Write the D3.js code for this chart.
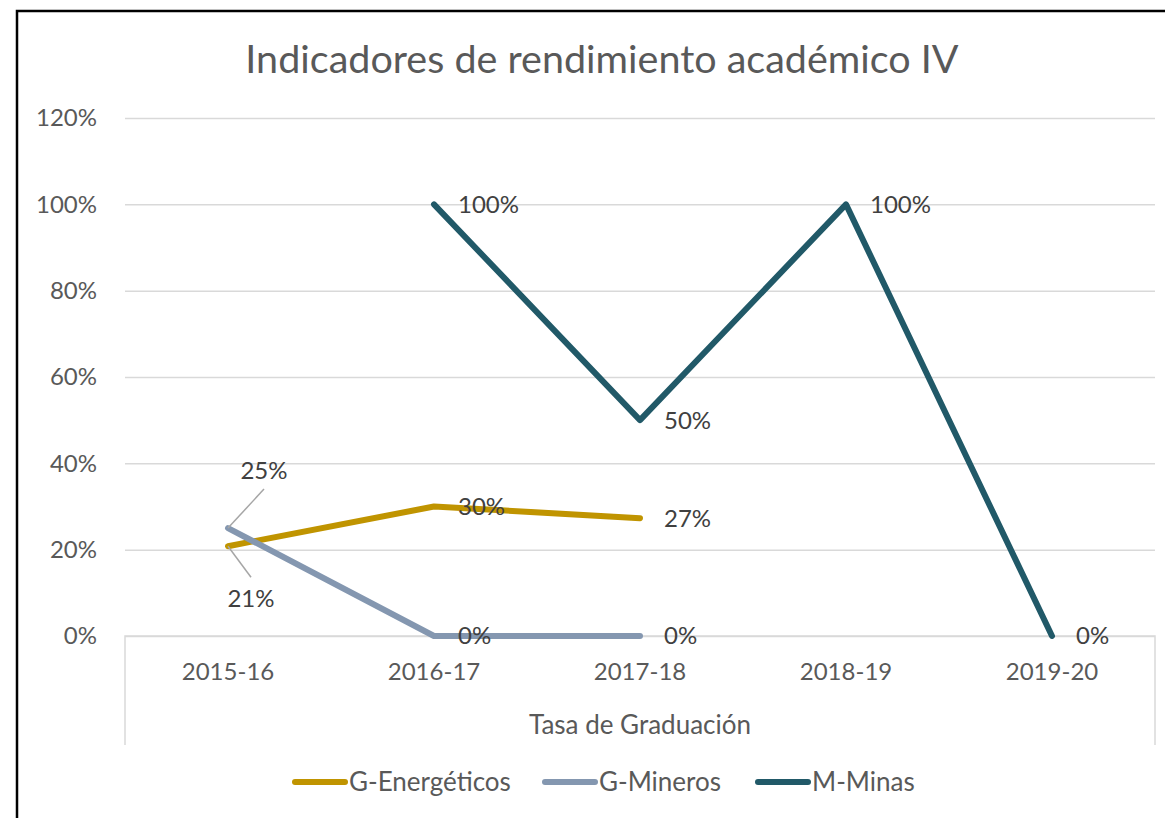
<!DOCTYPE html>
<html>
<head>
<meta charset="utf-8">
<script src="https://cdn.jsdelivr.net/npm/d3@7"></script>
<style>
  html, body { margin: 0; padding: 0; background: #fff; }
  svg { display: block; }
  text { font-family: Lato, "Open Sans", sans-serif; }
</style>
</head>
<body>
<div id="container"></div>
<script>
const categories = ["2015-16", "2016-17", "2017-18", "2018-19", "2019-20"];
const energeticos = [0.208, 0.30, 0.273, null, null];
const mineros = [0.25, 0, 0, null, null];
const minas = [null, 1.0, 0.5, 1.0, 0];
const yTicks = [0, 0.2, 0.4, 0.6, 0.8, 1.0, 1.2];
const seriesNames = ["G-Energéticos", "G-Mineros", "M-Minas"];
const title = "Indicadores de rendimiento académico IV";
const axisTitle = "Tasa de Graduación";

function init() {
  const width = 1165, height = 818;
  const colors = ["#c09400", "#8497b0", "#215968"];
  const seriesData = [energeticos, mineros, minas];

  const svg = d3.select("#container").append("svg")
    .attr("width", width).attr("height", height);

  // chart frame
  svg.append("rect")
    .attr("x", 17).attr("y", 11)
    .attr("width", 1200).attr("height", 900)
    .attr("fill", "#fff").attr("stroke", "#000").attr("stroke-width", 2.5);

  const x = d3.scaleBand().domain(categories).range([125, 1155]).padding(0);
  const y = d3.scaleLinear().domain([0, 1.2]).range([636, 118]);
  const cx = c => x(c) + x.bandwidth() / 2;

  // gridlines + y labels
  const yAxis = d3.axisLeft(y).tickValues(yTicks)
    .tickSize(-(1155 - 125)).tickFormat(d3.format(".0%")).tickPadding(28);
  const gy = svg.append("g").attr("transform", "translate(125,0)").call(yAxis);
  gy.select(".domain").remove();
  gy.selectAll(".tick line").attr("stroke", "#d9d9d9").attr("stroke-width", 1.5);
  gy.selectAll(".tick text").attr("fill", "#595959").attr("font-size", 24);

  // category axis (multi-level style)
  const gx = svg.append("g").attr("transform", "translate(0,636)");
  gx.append("path")
    .attr("d", `M125,109V0H1155V109`)
    .attr("fill", "none").attr("stroke", "#d9d9d9").attr("stroke-width", 1.5);
  gx.selectAll("text.cat").data(categories).join("text")
    .attr("class", "cat")
    .attr("x", d => cx(d)).attr("y", 44)
    .attr("text-anchor", "middle")
    .attr("fill", "#595959").attr("font-size", 24)
    .text(d => d);
  gx.append("text")
    .attr("x", (125 + 1155) / 2).attr("y", 98)
    .attr("text-anchor", "middle")
    .attr("fill", "#595959").attr("font-size", 26)
    .text(axisTitle);

  // title
  svg.append("text")
    .attr("x", 602).attr("y", 73)
    .attr("text-anchor", "middle")
    .attr("fill", "#595959").attr("font-size", 39.5)
    .text(title);

  // lines
  const line = d3.line()
    .defined(d => d.v !== null)
    .x(d => cx(d.c)).y(d => y(d.v));

  seriesData.forEach((vals, i) => {
    const pts = vals.map((v, j) => ({ c: categories[j], v }));
    svg.append("path")
      .datum(pts)
      .attr("d", line)
      .attr("fill", "none")
      .attr("stroke", colors[i])
      .attr("stroke-width", 6)
      .attr("stroke-linecap", "round")
      .attr("stroke-linejoin", "round");
  });

  // data labels
  const fmt = d3.format(".0%");
  const gl = svg.append("g");
  seriesData.forEach((vals, i) => {
    vals.forEach((v, j) => {
      if (v === null) return;
      const px = cx(categories[j]), py = y(v);
      if (j === 0) {
        // leader-line labels at first category
        const up = i === 1;
        const ex = up ? px + 36 : px + 23;
        const ey = up ? py - 39 : py + 31;
        gl.append("line")
          .attr("x1", px).attr("y1", py).attr("x2", ex).attr("y2", ey)
          .attr("stroke", "#a6a6a6").attr("stroke-width", 1.5);
        gl.append("text")
          .attr("x", up ? px + 36 : px + 23)
          .attr("y", up ? py - 49 : py + 61)
          .attr("text-anchor", "middle")
          .attr("fill", "#404040").attr("font-size", 24)
          .text(fmt(v));
      } else {
        gl.append("text")
          .attr("x", px + 24).attr("y", py)
          .attr("dy", "0.35em")
          .attr("fill", "#404040").attr("font-size", 24)
          .text(fmt(v));
      }
    });
  });

  // legend
  const legendX = [295, 545, 758];
  const lg = svg.append("g").attr("transform", "translate(0,782)");
  seriesNames.forEach((name, i) => {
    lg.append("line")
      .attr("x1", legendX[i]).attr("x2", legendX[i] + 50)
      .attr("stroke", colors[i]).attr("stroke-width", 6)
      .attr("stroke-linecap", "round");
    lg.append("text")
      .attr("x", legendX[i] + 54).attr("y", 0).attr("dy", "0.35em")
      .attr("fill", "#595959").attr("font-size", 26)
      .text(name);
  });
}

document.addEventListener("DOMContentLoaded", init);
</script>
</body>
</html>
